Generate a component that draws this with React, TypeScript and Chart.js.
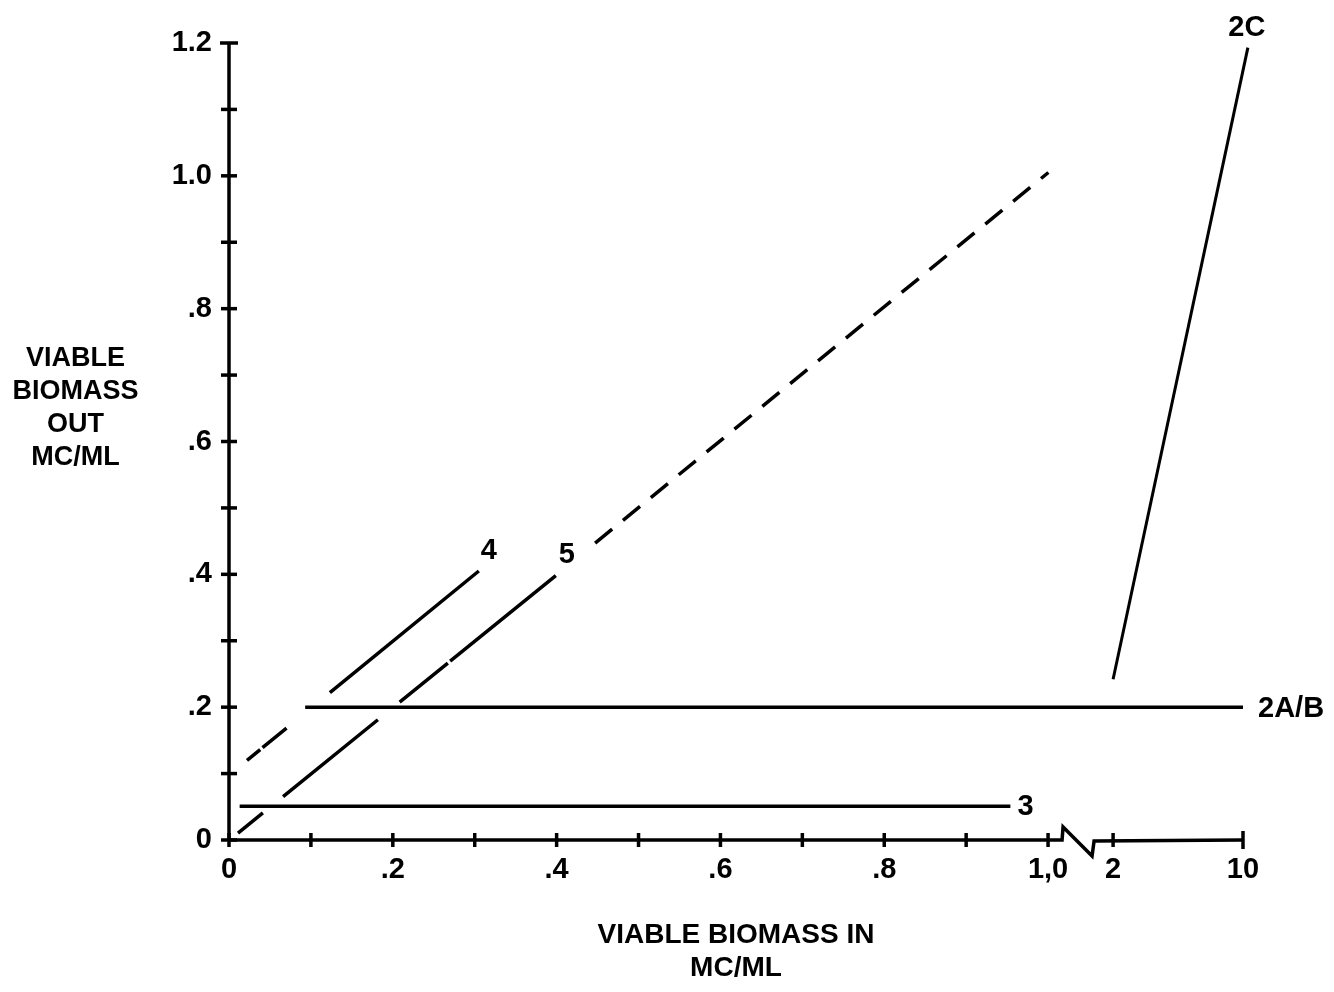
import React, { useEffect, useRef } from "react";
import { Chart, registerables } from "chart.js";

Chart.register(...registerables);

// ---- tick definitions (real axis values; x axis is broken between 1.0 and 2) ----
const xTickValues = [0, 0.1, 0.2, 0.3, 0.4, 0.5, 0.6, 0.7, 0.8, 0.9, 1.0, 2, 10];
const xTickLabels = ["0", "", ".2", "", ".4", "", ".6", "", ".8", "", "1,0", "2", "10"];
const yTickValues = [0, 0.1, 0.2, 0.3, 0.4, 0.5, 0.6, 0.7, 0.8, 0.9, 1.0, 1.1, 1.2];
const yTickLabels = ["0", "", ".2", "", ".4", "", ".6", "", ".8", "", "1.0", "", "1.2"];

const line2AB_x = [0.093, 10];
const line2AB_y = [0.2, 0.2];
const line2C_x = [2, 10.3];
const line2C_y = [0.242, 1.193];
const line3_x = [0.013, 0.954];
const line3_y = [0.051, 0.051];
const line4_x = [0.022, 0.305];
const line4_y = [0.12, 0.405];
const line5_x = [0.011, 0.399];
const line5_y = [0.0105, 0.398];
const line5ext_x = [0.447, 1.005];
const line5ext_y = [0.447, 1.005];

const seriesLabels = ["2A/B", "2C", "3", "4", "5", ""];

// broken-axis geometry: where 2 and 10 sit on the axis (in axis units, 1.0 = one unit)
const POS_2 = 1.0794;
const POS_10 = 1.238;
function toPos(v: number): number {
  if (v <= 1) return v;
  if (v <= 2) return 1 + (v - 1) * (POS_2 - 1);
  return POS_2 + ((v - 2) / 8) * (POS_10 - POS_2);
}

const FONT = "'Liberation Sans', Arial, sans-serif";

function pts(xs: number[], ys: number[]) {
  return xs.map((x, i) => ({ x: toPos(x), y: ys[i] }));
}

export default function App() {
  const ref = useRef<HTMLCanvasElement | null>(null);

  useEffect(() => {
    document.body.style.margin = "0";
    const canvas = ref.current;
    if (!canvas) return;

    const labelOffsets: Record<string, { dx: number; dy: number; align: CanvasTextAlign }> = {
      "2A/B": { dx: 15, dy: 2, align: "left" },
      "2C": { dx: -1, dy: -20, align: "center" },
      "3": { dx: 7, dy: 1, align: "left" },
      "4": { dx: 10, dy: -20, align: "center" },
      "5": { dx: 11, dy: -21, align: "center" },
    };

    const axesPlugin = {
      id: "brokenAxes",
      afterDraw(chart: any) {
        const { ctx, chartArea } = chart;
        const xs = chart.scales.x;
        const ys = chart.scales.y;
        const y0 = ys.getPixelForValue(0);
        const x0 = xs.getPixelForValue(0);
        ctx.save();
        ctx.strokeStyle = "#000";
        ctx.lineWidth = 3.5;
        ctx.lineCap = "butt";
        ctx.lineJoin = "miter";
        // y axis
        ctx.beginPath();
        ctx.moveTo(x0, ys.getPixelForValue(1.2));
        ctx.lineTo(x0, y0);
        ctx.stroke();
        yTickValues.forEach((v, i) => {
          const py = ys.getPixelForValue(v);
          const half = i === yTickValues.length - 1 ? 9 : 8;
          ctx.beginPath();
          ctx.moveTo(x0 - half, py);
          ctx.lineTo(x0 + half, py);
          ctx.stroke();
        });
        // x axis with break
        const x1 = xs.getPixelForValue(1);
        const xEnd = xs.getPixelForValue(toPos(10));
        ctx.beginPath();
        ctx.moveTo(x0, y0);
        ctx.lineTo(x1 + 14, y0);
        ctx.lineTo(x1 + 15, y0 - 13);
        ctx.lineTo(x1 + 44, y0 + 16);
        ctx.lineTo(x1 + 46, y0 + 1);
        ctx.lineTo(xEnd, y0);
        ctx.stroke();
        xTickValues.forEach((v, i) => {
          const px = xs.getPixelForValue(toPos(v));
          const half = i === xTickValues.length - 1 ? 9 : 7;
          ctx.beginPath();
          ctx.moveTo(px, y0 - half);
          ctx.lineTo(px, y0 + half);
          ctx.stroke();
        });

        // y axis title (horizontal stacked lines)
        ctx.fillStyle = "#000";
        ctx.font = `bold 27px ${FONT}`;
        ctx.textAlign = "center";
        ctx.textBaseline = "middle";
        const yTitle = ["VIABLE", "BIOMASS", "OUT", "MC/ML"];
        const cy = ys.getPixelForValue(0.65);
        const tx = chartArea.left * 0.33;
        yTitle.forEach((t, i) => {
          ctx.fillText(t, tx, cy + (i - 1.5) * 33);
        });

        // series labels at line ends
        ctx.font = `bold 29px ${FONT}`;
        chart.data.datasets.forEach((ds: any, di: number) => {
          const name = seriesLabels[di];
          if (!name) return;
          const off = labelOffsets[name];
          const last = ds.data[ds.data.length - 1];
          const px = xs.getPixelForValue(last.x);
          const py = ys.getPixelForValue(last.y);
          ctx.textAlign = off.align;
          ctx.fillText(name, px + off.dx, py + off.dy);
        });
        ctx.restore();
      },
    };

    const base = {
      showLine: true,
      pointRadius: 0,
      borderColor: "#000",
      borderWidth: 3.5,
      fill: false,
      clip: false as any,
      borderCapStyle: "butt" as CanvasLineCap,
    };

    const chart = new Chart(canvas, {
      type: "scatter",
      data: {
        datasets: [
          { ...base, label: seriesLabels[0], data: pts(line2AB_x, line2AB_y) },
          { ...base, label: seriesLabels[1], data: pts(line2C_x, line2C_y), borderWidth: 3 },
          { ...base, label: seriesLabels[2], data: pts(line3_x, line3_y) },
          { ...base, label: seriesLabels[3], data: pts(line4_x, line4_y), borderDash: [17, 3, 31, 56, 400] },
          { ...base, label: seriesLabels[4], data: pts(line5_x, line5_y), borderDash: [32, 26, 122, 28, 62, 3, 300] },
          { ...base, label: "5 (extrapolated)", data: pts(line5ext_x, line5ext_y), borderDash: [22, 14] },
        ],
      },
      options: {
        animation: false,
        responsive: false,
        devicePixelRatio: 1,
        layout: { padding: { top: 43, right: 91, left: 0, bottom: 0 } },
        plugins: { legend: { display: false }, tooltip: { enabled: false } },
        scales: {
          x: {
            type: "linear",
            min: 0,
            max: POS_10,
            grid: { display: false, drawTicks: false },
            border: { display: false },
            afterBuildTicks: (scale: any) => {
              scale.ticks = xTickValues.map((v) => ({ value: toPos(v) }));
            },
            afterFit: (scale: any) => {
              scale.height = 152;
            },
            ticks: {
              autoSkip: false,
              maxRotation: 0,
              padding: 13,
              color: "#000",
              font: { family: FONT, size: 29, weight: "bold" },
              callback: (_v: any, i: number) => xTickLabels[i],
            },
            title: {
              display: true,
              text: ["VIABLE BIOMASS IN", "MC/ML"],
              color: "#000",
              font: { family: FONT, size: 28, weight: "bold", lineHeight: 1.18 },
              padding: { top: 0, bottom: 7 },
            },
          },
          y: {
            type: "linear",
            min: 0,
            max: 1.2,
            grid: { display: false, drawTicks: false },
            border: { display: false },
            afterBuildTicks: (scale: any) => {
              scale.ticks = yTickValues.map((v) => ({ value: v }));
            },
            afterFit: (scale: any) => {
              scale.width = 229;
            },
            ticks: {
              autoSkip: false,
              padding: 17,
              color: "#000",
              font: { family: FONT, size: 29, weight: "bold" },
              callback: (_v: any, i: number) => yTickLabels[i],
            },
          },
        },
      },
      plugins: [axesPlugin],
    });

    return () => chart.destroy();
  }, []);

  return (
    <div style={{ position: "fixed", left: 0, top: 0, width: 1334, height: 992, background: "#fff" }}>
      <canvas ref={ref} width={1334} height={992} style={{ width: 1334, height: 992 }} />
    </div>
  );
}
